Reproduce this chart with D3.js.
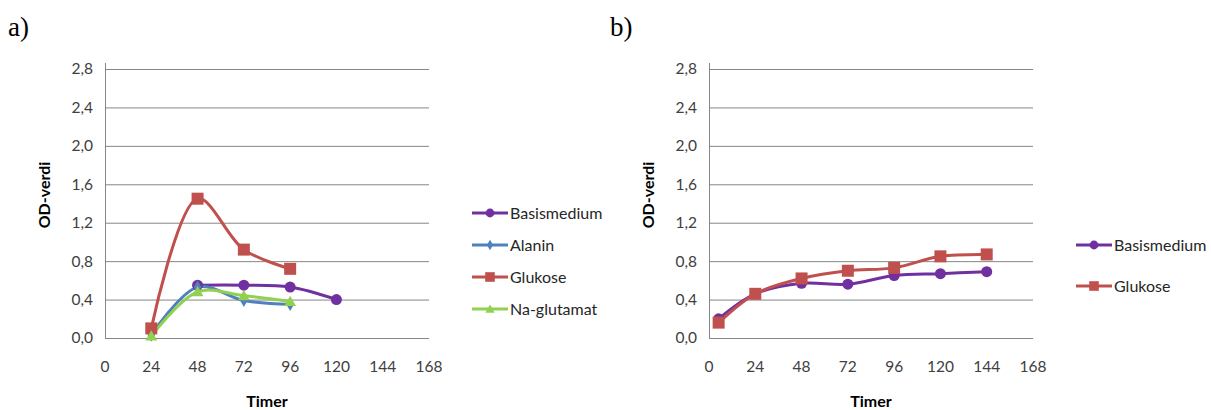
<!DOCTYPE html>
<html><head><meta charset="utf-8">
<script src="https://cdn.jsdelivr.net/npm/d3@7"></script>
<style>body{margin:0;background:#fff;} svg{display:block;}</style>
</head><body>
<svg id="c" width="1211" height="410"></svg>
<script>
// Panel a data
const aBasisX = [48, 72, 96, 120];
const aBasisY = [0.55, 0.55, 0.53, 0.40];
const aAlaninX = [24, 48, 72, 96];
const aAlaninY = [0.03, 0.53, 0.39, 0.35];
const aGlukoseX = [24, 48, 72, 96];
const aGlukoseY = [0.10, 1.45, 0.92, 0.72];
const aGlutX = [24, 48, 72, 96];
const aGlutY = [0.02, 0.48, 0.44, 0.38];
// Panel b data
const bBasisX = [5, 24, 48, 72, 96, 120, 144];
const bBasisY = [0.20, 0.46, 0.57, 0.56, 0.65, 0.67, 0.69];
const bGlukoseX = [5, 24, 48, 72, 96, 120, 144];
const bGlukoseY = [0.16, 0.46, 0.62, 0.70, 0.73, 0.85, 0.87];
// ticks
const xTicks = [0, 24, 48, 72, 96, 120, 144, 168];
const yTicks = [0, 0.4, 0.8, 1.2, 1.6, 2.0, 2.4, 2.8];

const C = {purple:"#7030A0", blue:"#4F81BD", red:"#C0504D", green:"#92D050"};
const FONT = "Lato, 'Open Sans', sans-serif";
const svg = d3.select("#c");

function zip(xs, ys){ return xs.map((x,i)=>({x, y: ys[i]})); }

function marker(g, type, color, cx, cy, s){
  if(type==="circle") g.append("circle").attr("cx",cx).attr("cy",cy).attr("r",5.5*s).attr("fill",color);
  else if(type==="square") g.append("rect").attr("x",cx-6*s).attr("y",cy-6*s).attr("width",12*s).attr("height",12*s).attr("fill",color);
  else if(type==="diamond") g.append("path").attr("d",d3.symbol(d3.symbolDiamond, 50*s*s)()).attr("transform",`translate(${cx},${cy})`).attr("fill",color);
  else if(type==="triangle") g.append("path").attr("d",d3.symbol(d3.symbolTriangle, 60*s*s)()).attr("transform",`translate(${cx},${cy+1})`).attr("fill",color);
}

function panel(opts){
  const x = d3.scaleLinear().domain([0,168]).range([opts.x0, opts.x1]);
  const y = d3.scaleLinear().domain([0,2.8]).range([338, 69]);
  const g = svg.append("g");
  g.selectAll("line.grid").data(yTicks).join("line")
    .attr("x1", opts.x0).attr("x2", opts.x1)
    .attr("y1", d=>y(d)+0.5).attr("y2", d=>y(d)+0.5)
    .attr("stroke", "#868686").attr("stroke-width", 1);
  g.append("line").attr("x1",opts.x0+0.5).attr("x2",opts.x0+0.5).attr("y1",63).attr("y2",338.5)
    .attr("stroke","#868686");
  const fmt = d => d3.format(".1f")(d).replace(".", ",");
  g.selectAll("text.yt").data(yTicks).join("text")
    .attr("x", opts.x0-12).attr("y", d=>y(d)).attr("dy","0.35em")
    .attr("text-anchor","end").attr("font-family",FONT).attr("font-size",15.5).attr("fill","#404040")
    .text(fmt);
  g.selectAll("text.xt").data(xTicks).join("text")
    .attr("x", d=>x(d)).attr("y", 367).attr("dy","0.35em")
    .attr("text-anchor","middle").attr("font-family",FONT).attr("font-size",15.5).attr("fill","#404040")
    .text(d=>d);
  g.append("text").attr("x", opts.titleX).attr("y", 407)
    .attr("text-anchor","middle").attr("font-family",FONT).attr("font-weight","bold").attr("font-size",16).attr("fill","#000")
    .text("Timer");
  g.append("text").attr("transform",`translate(${opts.x0-61},195) rotate(-90)`)
    .attr("dy","0.35em").attr("text-anchor","middle").attr("font-family",FONT).attr("font-weight","bold").attr("font-size",16).attr("fill","#000")
    .text("OD-verdi");
  g.append("text").attr("x", opts.labelX).attr("y", 36).attr("font-family","'Liberation Serif', serif").attr("font-size",27).attr("fill","#000").text(opts.label);

  const line = d3.line().x(d=>x(d.x)).y(d=>y(d.y)).curve(d3.curveCatmullRom.alpha(0.5));
  opts.series.forEach(s=>{
    const pts = zip(s.xs, s.ys);
    g.append("path").attr("d", line(pts)).attr("fill","none").attr("stroke", s.color).attr("stroke-width",3).attr("stroke-linejoin","round");
  });
  opts.series.forEach(s=>{
    const pts = zip(s.xs, s.ys);
    pts.forEach(p=> marker(g, s.marker, s.color, x(p.x), y(p.y), 1));
  });
  opts.series.forEach((s,i)=>{
    const ly = opts.legY[i];
    g.append("line").attr("x1",opts.legX).attr("x2",opts.legX+36).attr("y1",ly).attr("y2",ly).attr("stroke",s.color).attr("stroke-width",3);
    marker(g, s.marker, s.color, opts.legX+18, ly, 0.8);
    g.append("text").attr("x",opts.legX+38).attr("y",ly).attr("dy","0.35em")
      .attr("font-family",FONT).attr("font-size",16).attr("fill","#262626").text(s.name);
  });
}

panel({x0:105, x1:429, titleX:267, label:"a)", labelX:8, legX:472, legY:[213,245,277,309],
  series:[
    {name:"Basismedium", xs:aBasisX, ys:aBasisY, color:C.purple, marker:"circle"},
    {name:"Alanin", xs:aAlaninX, ys:aAlaninY, color:C.blue, marker:"diamond"},
    {name:"Glukose", xs:aGlukoseX, ys:aGlukoseY, color:C.red, marker:"square"},
    {name:"Na-glutamat", xs:aGlutX, ys:aGlutY, color:C.green, marker:"triangle"}
  ]});
panel({x0:709, x1:1033, titleX:871, label:"b)", labelX:610, legX:1076, legY:[245,286],
  series:[
    {name:"Basismedium", xs:bBasisX, ys:bBasisY, color:C.purple, marker:"circle"},
    {name:"Glukose", xs:bGlukoseX, ys:bGlukoseY, color:C.red, marker:"square"}
  ]});
</script>
</body></html>
